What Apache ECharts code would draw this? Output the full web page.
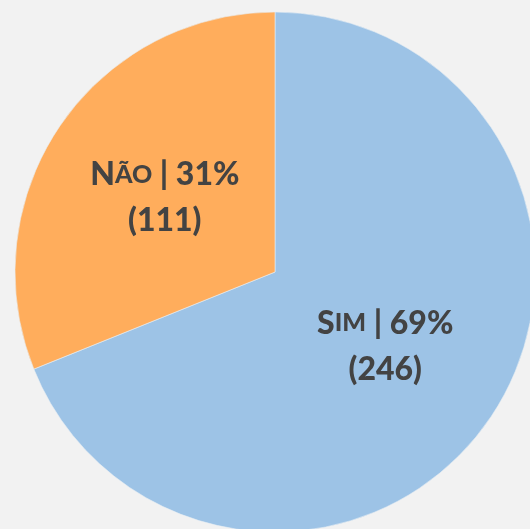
<!DOCTYPE html>
<html>
<head>
<meta charset="utf-8">
<script src="https://cdn.jsdelivr.net/npm/echarts@6/dist/echarts.min.js"></script>
<style>
  html, body { margin: 0; padding: 0; background: #f2f2f2; }
  #chart { width: 530px; height: 529px; }
</style>
</head>
<body>
<div id="chart"></div>
<script>
const categories = ['Sim', 'Não'];
const counts = [246, 111];
const colors = ['#9dc3e6', '#ffad5c'];

const FONTFAMILY = 'Lato';
const FONTCOLOR = '#434343';
const total = counts.reduce((a, b) => a + b, 0);

// small caps: first letter full size, rest smaller
const smallCaps = (name) =>
  `{cap|${name[0].toUpperCase()}}{sc|${name.slice(1).toUpperCase()}}`;

const chart = echarts.init(document.getElementById('chart'));
chart.setOption({
  backgroundColor: '#f2f2f2',
  animation: false,
  series: [{
    type: 'pie',
    center: [275, 272],
    radius: [0, 260],
    startAngle: 90,
    clockwise: true,
    itemStyle: { borderColor: '#e8eef4', borderWidth: 0.6 },
    label: {
      show: true,
      position: 'inside',
      formatter: (p) => {
        const pct = Math.round(p.value / total * 100);
        return `${smallCaps(p.name)}{cap| | ${pct}%}\n{cap|(${p.value})}`;
      },
      rich: {
        cap: { fontFamily: FONTFAMILY, fontWeight: 900, fontSize: 32, color: FONTCOLOR, lineHeight: 46 },
        sc: { fontFamily: FONTFAMILY, fontWeight: 900, fontSize: 25, color: FONTCOLOR, lineHeight: 46 }
      }
    },
    labelLine: { show: false },
    data: categories.map((name, i) => ({
      name,
      value: counts[i],
      itemStyle: { color: colors[i] }
    }))
  }]
});
</script>
</body>
</html>
